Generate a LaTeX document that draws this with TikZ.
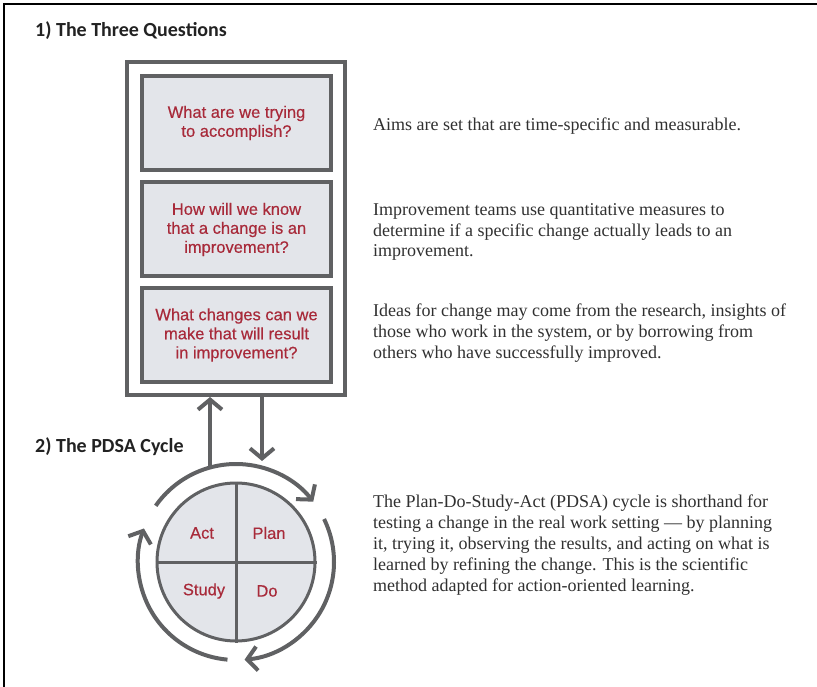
\documentclass[tikz,border=0pt]{standalone}
\usepackage{fontspec}
\setmainfont{Liberation Serif}
\newfontfamily\qfont[FakeBold=0.4]{Liberation Sans}
\newfontfamily\hfont{Carlito}
\usetikzlibrary{positioning,arrows.meta,calc}
\definecolor{boxgray}{HTML}{606163}
\definecolor{boxfill}{HTML}{E3E5EA}
\definecolor{qred}{HTML}{A82A3A}
\definecolor{bodytext}{HTML}{303030}
\definecolor{headtext}{HTML}{222222}

\begin{document}
\begin{tikzpicture}[
  x=1pt, y=-1pt,
  >={Straight Barb[length=10pt, width=24pt]},
  qbox/.style={draw=boxgray, line width=4pt, fill=boxfill, minimum width=189pt,
               minimum height=94pt, align=center, inner sep=0pt, text=qred,
               font=\qfont\fontsize{16.5}{19}\selectfont},
  phase/.style={inner sep=0pt, text=qred, font=\qfont\fontsize{16.5}{19}\selectfont},
  heading/.style={anchor=base west, inner sep=0pt, text=headtext,
                  font=\hfont\bfseries\fontsize{20}{24}\selectfont},
  note/.style={anchor=base west, inner sep=0pt, align=left, text=bodytext,
               font=\fontsize{18}{20.8}\selectfont},
  cyclearc/.style={->, draw=boxgray, line width=4pt},
  link/.style={->, draw=boxgray, line width=4pt}
]
\useasboundingbox (0,0) rectangle (817,687);

% --- Page frame ---
\draw[line width=1.5pt] (4,687) -- (4,4) -- (817,4);

% --- Headings ---
\node[heading] (head1) at (35,37) {1) The Three Questions};
\node[heading] (head2) at (35,452) {2) The PDSA Cycle};

% --- The three questions ---
\node[draw=boxgray, line width=4pt, minimum width=218pt, minimum height=333pt]
  (qframe) at (236,228.5) {};
\node[qbox] (aim) at (236.5,123) {What are we trying\\to accomplish?};
\node[qbox] (measure) at (236.5,229.5) {How will we know\\that a change is an\\improvement?};
\node[qbox] (change) at (236.5,335) {What changes can we\\make that will result\\in improvement?};

% --- PDSA wheel ---
\coordinate (hub) at (236,562);
\node[circle, draw=boxgray, line width=3pt, fill=boxfill, minimum size=158pt, inner sep=0pt]
  (wheel) at (hub) {};
\draw[draw=boxgray, line width=3pt] (wheel.north) -- (wheel.south);
\draw[draw=boxgray, line width=3pt] (wheel.west) -- (wheel.east);
\node[phase] (act)   at (202,533) {Act};
\node[phase] (plan)  at (269,533) {Plan};
\node[phase] (study) at (204,591) {Study};
\node[phase] (do)    at (267,591) {Do};

% --- Circulating arrows ---
\draw[cyclearc] ($(hub)+(-145:98)$) arc[start angle=-145, end angle=-38, radius=98];
\draw[cyclearc] ($(hub)+(-26:98)$) arc[start angle=-26, end angle=85, radius=98];
\draw[cyclearc] ($(hub)+(95:98)$) arc[start angle=95, end angle=200, radius=98];

% --- Links between wheel and questions ---
\coordinate (upfoot) at (210,467);
\coordinate (downtip) at (262,461);
\draw[link] (upfoot) -- (upfoot |- qframe.south);
\draw[link] (downtip |- qframe.south) -- (downtip);

% --- Explanations ---
\node[note] (aimnote) at (373,131) {Aims are set that are time-specific and measurable.};
\node[note] (measurenote) at (373,257) {Improvement teams use quantitative measures to\\
  determine if a specific change actually leads to an\\improvement.};
\node[note] (changenote) at (373,358) {Ideas for change may come from the research, insights of\\
  those who work in the system, or by borrowing from\\others who have successfully improved.};
\node[note] (pdsanote) at (373,591) {The Plan-Do-Study-Act (PDSA) cycle is shorthand for\\
  testing a change in the real work setting --- by planning\\
  it, trying it, observing the results, and acting on what is\\
  learned by refining the change. This is the scientific\\
  method adapted for action-oriented learning.};

\end{tikzpicture}
\end{document}
